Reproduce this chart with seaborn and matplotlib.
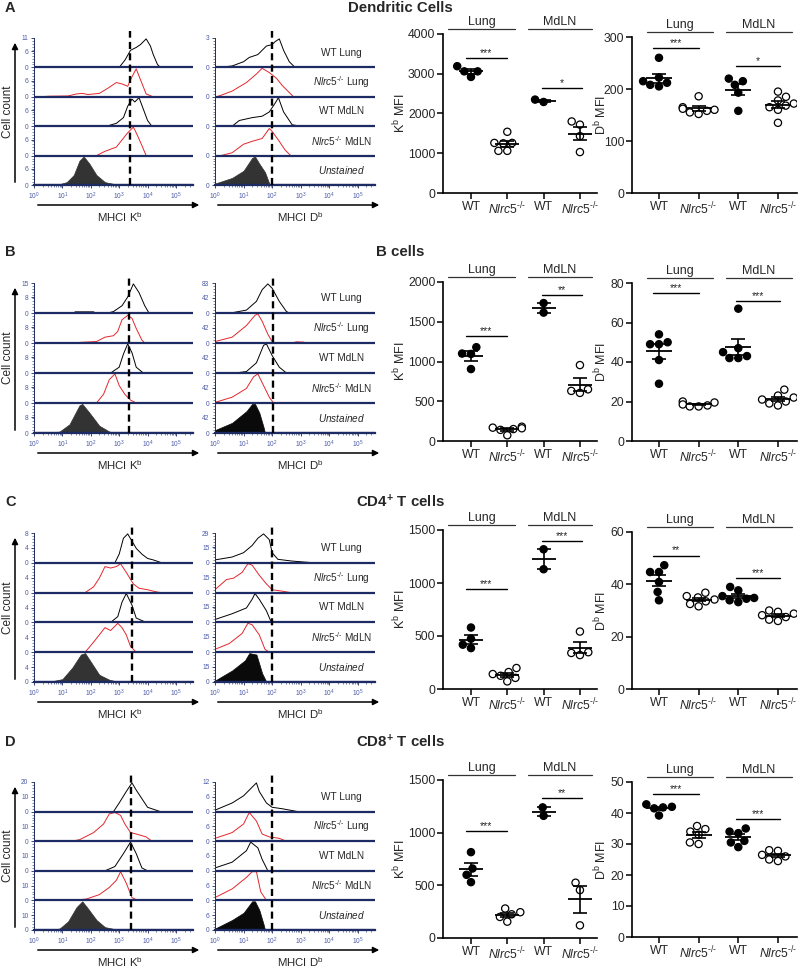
from __future__ import annotations

import matplotlib

matplotlib.use("Agg")
import matplotlib.pyplot as plt
import numpy as np
import pandas as pd
import seaborn as sns
from matplotlib.patches import FancyArrowPatch
from matplotlib.ticker import FixedLocator, LogLocator, MultipleLocator, NullFormatter

# ---------------------------------------------------------------- data
PANELS = ["A", "B", "C", "D"]
PANEL_TITLES = ["Dendritic Cells", "B cells", r"CD4$^{\mathbf{+}}$ T cells", r"CD8$^{\mathbf{+}}$ T cells"]
KO_SUP = r"$\mathit{Nlrc5}^{\text{-/-}}$"
TRACK_NAMES = ["WT Lung", KO_SUP + " Lung", "WT MdLN", KO_SUP + " MdLN", r"$\mathit{Unstained}$"]
GROUPS = ["WT Lung", "KO Lung", "WT MdLN", "KO MdLN"]
GROUP_TICKS = ["WT", KO_SUP, "WT", KO_SUP]

# histogram traces: (log10 MHCI intensity, fraction of track max), top track first
HIST_KB = [
    [  # A dendritic cells
        [(3.0, 0), (3.2, 0.25), (3.4, 0.6), (3.6, 0.7), (3.75, 0.8), (3.95, 1.0), (4.1, 0.75), (4.2, 0.45), (4.35, 0.1), (4.45, 0)],
        [(0.2, 0), (0.5, 0.02), (1.2, 0.03), (1.5, 0.1), (1.7, 0.12), (1.9, 0.08), (2.3, 0.12), (2.6, 0.3), (2.9, 0.5), (3.1, 0.45), (3.3, 0.37), (3.45, 0.7), (3.6, 0.98), (3.75, 0.6), (3.95, 0.1), (4.2, 0)],
        [(2.55, 0), (2.9, 0.1), (3.15, 0.3), (3.3, 0.7), (3.45, 0.95), (3.55, 0.85), (3.7, 1.0), (3.85, 0.6), (4.0, 0.2), (4.15, 0)],
        [(2.2, 0), (2.5, 0.15), (2.9, 0.3), (3.1, 0.55), (3.3, 0.8), (3.5, 1.0), (3.6, 0.8), (3.78, 0.4), (3.95, 0)],
        [(0.5, 0), (0.9, 0.03), (1.15, 0.1), (1.4, 0.35), (1.6, 0.85), (1.75, 1.0), (1.95, 0.75), (2.2, 0.35), (2.5, 0.1), (2.9, 0.02), (3.0, 0)],
    ],
    [  # B cells
        [(1.4, 0), (1.45, 0.04), (2.1, 0.04), (2.15, 0), (2.6, 0), (2.8, 0.05), (3.1, 0.25), (3.3, 0.55), (3.5, 1.0), (3.7, 0.7), (3.9, 0.25), (4.05, 0)],
        [(1.5, 0), (1.6, 0.02), (2.2, 0.05), (2.5, 0.2), (2.8, 0.25), (2.95, 0.4), (3.1, 0.8), (3.3, 0.95), (3.45, 0.85), (3.6, 0.5), (3.8, 0.1), (3.9, 0)],
        [(2.7, 0), (3.0, 0.2), (3.15, 0.65), (3.3, 1.0), (3.45, 0.7), (3.6, 0.2), (3.85, 0)],
        [(2.2, 0), (2.45, 0.3), (2.65, 0.8), (2.85, 1.0), (3.0, 0.6), (3.2, 0.3), (3.4, 0.1), (3.6, 0)],
        [(0.5, 0), (0.9, 0.05), (1.25, 0.3), (1.6, 0.95), (1.7, 1.0), (1.95, 0.7), (2.3, 0.25), (2.65, 0.05), (2.9, 0)],
    ],
    [  # CD4 T cells
        [(2.85, 0), (3.0, 0.3), (3.15, 0.85), (3.3, 1.0), (3.45, 0.75), (3.6, 0.5), (3.8, 0.3), (4.0, 0.15), (4.2, 0.1), (4.5, 0)],
        [(1.8, 0), (2.1, 0.2), (2.3, 0.5), (2.5, 0.9), (2.7, 0.85), (2.9, 0.9), (3.05, 1.0), (3.25, 0.7), (3.5, 0.3), (3.7, 0.15), (4.0, 0.1), (4.2, 0.05), (4.45, 0)],
        [(2.7, 0), (2.95, 0.2), (3.1, 0.7), (3.25, 1.0), (3.45, 0.6), (3.6, 0.15), (3.95, 0)],
        [(1.8, 0), (2.1, 0.35), (2.3, 0.6), (2.5, 0.85), (2.7, 0.75), (2.95, 1.0), (3.1, 0.85), (3.25, 0.6), (3.4, 0.2), (3.6, 0)],
        [(0.5, 0), (1.0, 0.1), (1.35, 0.5), (1.65, 0.95), (1.8, 1.0), (2.0, 0.7), (2.3, 0.25), (2.65, 0.08), (3.0, 0)],
    ],
    [  # CD8 T cells
        [(2.8, 0), (3.0, 0.3), (3.25, 0.7), (3.45, 1.0), (3.6, 0.75), (3.8, 0.45), (4.0, 0.15), (4.3, 0.05), (4.45, 0)],
        [(1.3, 0), (1.6, 0.05), (2.1, 0.3), (2.45, 0.6), (2.65, 0.95), (2.85, 1.0), (3.05, 0.9), (3.2, 0.6), (3.4, 0.3), (3.6, 0.25), (3.95, 0.15), (4.15, 0)],
        [(2.5, 0), (2.85, 0.15), (3.15, 0.6), (3.4, 1.0), (3.6, 0.6), (3.8, 0.1), (4.0, 0)],
        [(1.4, 0), (1.85, 0.05), (2.3, 0.2), (2.65, 0.45), (2.9, 0.7), (3.05, 1.0), (3.25, 0.6), (3.45, 0.1), (3.65, 0)],
        [(0.5, 0), (0.9, 0.05), (1.2, 0.3), (1.5, 0.8), (1.7, 1.0), (1.9, 0.75), (2.2, 0.35), (2.5, 0.1), (2.9, 0.02), (3.0, 0)],
    ],
]

HIST_DB = [
    [  # A
        [(0.1, 0), (0.6, 0.05), (1.0, 0.2), (1.2, 0.35), (1.5, 0.45), (1.8, 0.75), (2.0, 0.8), (2.1, 0.9), (2.25, 1.0), (2.4, 0.6), (2.6, 0.2), (2.8, 0)],
        [(0.05, 0), (0.2, 0.05), (0.6, 0.2), (1.1, 0.5), (1.45, 0.8), (1.65, 1.0), (1.9, 0.85), (2.15, 0.65), (2.35, 0.4), (2.6, 0.15), (2.75, 0)],
        [(0.6, 0), (0.85, 0.2), (1.3, 0.3), (1.65, 0.35), (1.9, 0.5), (2.1, 0.8), (2.22, 1.0), (2.4, 0.5), (2.7, 0.05), (3.0, 0)],
        [(0.2, 0), (0.6, 0.1), (1.0, 0.4), (1.3, 0.5), (1.65, 0.6), (1.9, 0.95), (2.0, 0.85), (2.25, 0.5), (2.45, 0.2), (2.65, 0)],
        [(0.0, 0.05), (0.6, 0.25), (1.0, 0.5), (1.3, 0.95), (1.4, 1.0), (1.55, 0.75), (1.75, 0.45), (1.9, 0.05), (1.95, 0)],
    ],
    [  # B
        [(0.55, 0), (1.1, 0.1), (1.45, 0.4), (1.65, 0.8), (1.85, 1.0), (2.0, 0.85), (2.25, 0.4), (2.5, 0.05), (2.6, 0)],
        [(0.0, 0.05), (0.6, 0.2), (1.1, 0.6), (1.4, 0.95), (1.5, 1.0), (1.65, 0.75), (1.85, 0.3), (2.0, 0.05), (2.1, 0), (2.7, 0), (2.85, 0.04), (3.1, 0.03), (3.2, 0)],
        [(0.7, 0), (1.1, 0.05), (1.45, 0.35), (1.7, 0.95), (1.8, 1.0), (2.0, 0.6), (2.25, 0.2), (2.5, 0)],
        [(0.0, 0.02), (0.6, 0.2), (1.1, 0.5), (1.35, 0.9), (1.5, 1.0), (1.65, 0.7), (1.9, 0.2), (2.05, 0)],
        [(0.0, 0.1), (0.6, 0.35), (1.1, 0.75), (1.3, 1.0), (1.4, 1.0), (1.55, 0.7), (1.7, 0.2), (1.75, 0)],
    ],
    [  # C
        [(0.0, 0.1), (0.6, 0.2), (1.0, 0.35), (1.3, 0.6), (1.5, 0.85), (1.7, 1.0), (1.9, 0.8), (2.0, 0.35), (2.2, 0.12), (2.7, 0.06), (3.2, 0.02), (3.5, 0)],
        [(0.0, 0.1), (0.4, 0.45), (0.65, 0.5), (0.95, 0.7), (1.15, 1.0), (1.3, 0.95), (1.55, 0.6), (1.8, 0.3), (2.0, 0.1), (2.35, 0.05), (2.65, 0)],
        [(0.0, 0.1), (0.6, 0.3), (1.1, 0.5), (1.3, 0.8), (1.4, 1.0), (1.55, 0.8), (1.8, 0.4), (1.95, 0.05), (2.0, 0)],
        [(0.0, 0.1), (0.5, 0.3), (0.95, 0.65), (1.15, 1.0), (1.3, 0.95), (1.55, 0.6), (1.75, 0.1), (1.9, 0)],
        [(0.0, 0.05), (0.6, 0.4), (1.05, 0.75), (1.2, 1.0), (1.45, 0.95), (1.65, 0.3), (1.8, 0)],
    ],
    [  # D
        [(0.0, 0.05), (0.6, 0.3), (1.0, 0.55), (1.2, 0.75), (1.45, 1.0), (1.55, 0.7), (1.8, 0.3), (2.0, 0.15), (2.35, 0.1), (2.9, 0)],
        [(0.0, 0.1), (0.6, 0.3), (1.0, 0.6), (1.2, 1.0), (1.45, 0.7), (1.65, 0.25), (1.9, 0.15), (2.25, 0.1), (2.5, 0)],
        [(0.0, 0.1), (0.6, 0.3), (1.1, 0.7), (1.25, 1.0), (1.5, 0.8), (1.65, 0.4), (1.85, 0)],
        [(0.0, 0.1), (0.6, 0.4), (1.1, 0.8), (1.3, 1.0), (1.45, 1.0), (1.6, 0.3), (1.8, 0)],
        [(0.0, 0.05), (0.6, 0.35), (1.0, 0.6), (1.3, 1.0), (1.4, 1.0), (1.55, 0.7), (1.7, 0.2), (1.75, 0)],
    ],
]

HIST_TICKS_KB = [(11, 6), (15, 8), (8, 4), (20, 10)]
HIST_TICKS_DB = [(3, None), (83, 42), (29, 15), (12, 6)]
CUTOFF_KB = [2400, 2250, 2900, 2700]
CUTOFF_DB = [100, 105, 100, 100]

# MFI per group: WT Lung, Nlrc5-/- Lung, WT MdLN, Nlrc5-/- MdLN
MFI_KB = [
    [[3190, 3060, 3060, 2920], [1540, 1260, 1260, 1250, 1060, 1060], [2290, 2350], [1800, 1720, 1430, 1030]],
    [[1180, 1100, 1095, 905], [180, 168, 160, 150, 140, 72], [1735, 1615], [955, 650, 630, 605]],
    [[580, 474, 418, 386], [198, 160, 141, 125, 105, 72], [1318, 1130], [542, 347, 340, 320]],
    [[815, 660, 600, 530], [280, 245, 225, 200, 155], [1240, 1160], [525, 455, 120]],
]
MFI_DB = [
    [[260, 222, 215, 212, 208, 205], [186, 165, 162, 160, 158, 155, 152], [220, 215, 208, 193, 158],
     [195, 185, 178, 172, 168, 165, 160, 135]],
    [[54, 50, 49, 49, 41, 29], [20, 19.5, 18.5, 18, 17.5, 17.5], [67, 47, 45, 43, 42, 42],
     [26, 23, 22, 21, 20, 19, 18]],
    [[47.3, 44.7, 44.7, 40.9, 37.1, 33.9], [36.8, 35.5, 35, 34.2, 33.5, 32.5, 31.6],
     [39, 37.7, 35.5, 34.8, 34.5, 33.9, 33.2], [30, 29.5, 28.8, 28.2, 27.5, 26.5, 26]],
    [[42.8, 42, 41.8, 41.5, 39.2], [35.8, 34.8, 34, 33, 30.5, 30], [35, 34, 33.5, 31, 30.5, 29],
     [28, 27.8, 26.5, 26, 25, 24.5]],
]
KB_YMAX = [4000, 2000, 1500, 1500]
KB_STEP = [1000, 500, 500, 500]
DB_YMAX = [300, 80, 60, 50]
DB_STEP = [100, 20, 20, 10]
# significance bars: (height, label) for Lung and MdLN comparisons
SIG_KB = [[(3400, "***"), (2640, "*")], [(1326, "***"), (1840, "**")],
          [(947, "***"), (1400, "***")], [(1017, "***"), (1332, "**")]]
SIG_DB = [[(279, "***"), (245, "*")], [(75, "***"), (71, "***")],
          [(51, "**"), (42.5, "***")], [(46, "***"), (38, "***")]]

# ---------------------------------------------------------------- style
W, H = 800, 968
NAVY = "#1c2b63"
TICK_BLUE = "#4a5aa8"
RED = "#e3262b"

# pixel layout per row: hist (top, bottom), Kb scatter, Db scatter, title y
ROW_GEOM = [
    dict(hist=(38, 185), kb=(34, 193), db=(37, 193), title=8),
    dict(hist=(283, 433), kb=(282, 441), db=(283, 441), title=252),
    dict(hist=(533, 682), kb=(530, 689), db=(532, 689), title=502),
    dict(hist=(782, 930), kb=(780, 938), db=(782, 937), title=742),
]


def px_axes(fig, x0, y0, x1, y1):
    return fig.add_axes([x0 / W, 1 - y1 / H, (x1 - x0) / W, (y1 - y0) / H])


def fig_arrow(fig, p0, p1):
    fig.add_artist(FancyArrowPatch((p0[0] / W, 1 - p0[1] / H), (p1[0] / W, 1 - p1[1] / H),
                                   transform=fig.transFigure, arrowstyle="-|>",
                                   mutation_scale=9, lw=1.1, color="black"))


def draw_hist(ax, tracks, ticks, cutoff, fill_color, labels):
    ax.set_xscale("log")
    ax.set_xlim(1, 10 ** 5.6)
    ax.set_ylim(0, 5)
    for i, pts in enumerate(tracks):
        base = 4 - i
        lx = np.array([p[0] for p in pts])
        fy = np.array([p[1] for p in pts])
        x = 10 ** lx
        y = base + fy * 0.97
        if i == 4:
            ax.fill_between(x, base, y, color=fill_color, lw=0.5, zorder=2)
        else:
            color = RED if i % 2 == 1 else "black"
            sns.lineplot(x=x, y=y, ax=ax, color=color, linewidth=0.7,
                         estimator=None, sort=False, zorder=2)
    for b in range(5):
        ax.axhline(b, color=NAVY, lw=1.6, zorder=3)
    ax.axvline(cutoff, ymin=0, ymax=1.05, color="black", lw=1.7,
               ls=(0, (3, 1.8)), clip_on=False, zorder=4)

    top, mid = ticks
    pos, lab = [], []
    for b in range(5):
        pos.append(b)
        lab.append("0")
        if mid is not None:
            pos.append(b + mid / top)
            lab.append(str(mid))
    pos.append(5)
    lab.append(str(top))
    ax.yaxis.set_major_locator(FixedLocator(pos))
    ax.set_yticklabels(lab)
    ax.yaxis.set_minor_locator(MultipleLocator(0.1))
    ax.xaxis.set_major_locator(FixedLocator([10 ** k for k in range(6)]))
    ax.set_xticklabels([f"$10^{{{k}}}$" for k in range(6)])
    ax.xaxis.set_minor_locator(LogLocator(base=10, subs=np.arange(2, 10)))
    ax.xaxis.set_minor_formatter(NullFormatter())
    ax.tick_params(axis="both", which="major", labelsize=4.8, labelcolor=TICK_BLUE,
                   color=NAVY, length=2.5, width=0.6, pad=1.5)
    ax.tick_params(axis="both", which="minor", color=NAVY, length=1.3, width=0.4)
    for s in ("top", "right"):
        ax.spines[s].set_visible(False)
    ax.spines["left"].set_color(NAVY)
    ax.spines["left"].set_linewidth(0.7)
    ax.spines["bottom"].set_color(NAVY)
    ax.spines["bottom"].set_linewidth(1.6)
    ax.set_xlabel("")
    ax.set_ylabel("")
    if labels:
        for i, name in enumerate(TRACK_NAMES):
            ax.text(0.79, (4 - i + 0.5) / 5, name, transform=ax.transAxes,
                    ha="center", va="center", fontsize=7.2)


def draw_scatter(ax, vals, ymax, ystep, ylabel, sigs, heads, xlim, label_x):
    df = pd.DataFrame({
        "group": np.repeat(GROUPS, [len(v) for v in vals]),
        "value": np.concatenate([np.asarray(v, float) for v in vals]),
    })
    df["geno"] = df["group"].str.split().str[0]
    sns.swarmplot(data=df, x="group", y="value", hue="geno", order=GROUPS,
                  palette={"WT": "black", "KO": "white"}, edgecolor="black",
                  linewidth=0.9, size=5.2, legend=False, ax=ax, zorder=3)
    stats = df.groupby("group")["value"].agg(["mean", "sem"]).reindex(GROUPS)
    xs = np.arange(len(GROUPS))
    ax.hlines(stats["mean"], xs - 0.33, xs + 0.33, color="black", lw=1.3, zorder=5)
    ax.errorbar(xs, stats["mean"], yerr=stats["sem"], fmt="none", ecolor="black",
                elinewidth=1.2, capsize=4.7, capthick=1.2, zorder=5)

    for (y, txt), (x0, x1) in zip(sigs, [(-0.15, 1.0), (1.95, 3.05)]):
        ax.plot([x0, x1], [y, y], color="black", lw=1.0, clip_on=False)
        ax.text((x0 + x1) / 2, y, txt, ha="center", va="bottom", fontsize=7.5)

    for (x0, x1), name in zip(heads, ["Lung", "MdLN"]):
        ax.plot([x0, x1], [1.03, 1.03], transform=ax.transAxes, color="#333333",
                lw=0.9, clip_on=False)
        ax.text((x0 + x1) / 2, 1.04, name, transform=ax.transAxes, ha="center",
                va="bottom", fontsize=9)

    ax.set_xlim(*xlim)
    ax.set_ylim(0, ymax)
    ax.set_yticks(np.arange(0, ymax + ystep / 2, ystep))
    ax.set_xticks(xs)
    ax.set_xticklabels(GROUP_TICKS)
    ax.set_xlabel("")
    ax.set_ylabel(ylabel, fontsize=9)
    ax.yaxis.set_label_coords(label_x, 0.5)
    ax.tick_params(axis="both", labelsize=8.8, direction="out", length=4, width=1.1,
                   color="black", pad=1.5)
    for s in ("top", "right"):
        ax.spines[s].set_visible(False)
    for s in ("left", "bottom"):
        ax.spines[s].set_linewidth(1.2)
        ax.spines[s].set_color("black")


def main() -> None:
    sns.set_theme(style="ticks")
    plt.rcParams["font.family"] = ["Liberation Sans", "DejaVu Sans"]
    plt.rcParams["mathtext.fontset"] = "custom"
    plt.rcParams["mathtext.rm"] = "Liberation Sans"
    plt.rcParams["mathtext.it"] = "Liberation Sans:italic"
    plt.rcParams["mathtext.bf"] = "Liberation Sans:bold"

    fig = plt.figure(figsize=(W / 100, H / 100), dpi=100)

    for r, geo in enumerate(ROW_GEOM):
        ty = geo["title"]
        fig.text(5 / W, 1 - ty / H, PANELS[r], fontsize=10.5, fontweight="bold",
                 ha="left", va="center")
        fig.text(400 / W, 1 - ty / H, PANEL_TITLES[r], fontsize=10.8, fontweight="bold",
                 ha="center", va="center")

        h0, h1 = geo["hist"]
        ax_kb = px_axes(fig, 34, h0, 193, h1)
        draw_hist(ax_kb, HIST_KB[r], HIST_TICKS_KB[r], CUTOFF_KB[r], "#333333", False)
        ax_db = px_axes(fig, 215, h0, 375, h1)
        fill_db = "#333333" if r == 0 else "#0a0a0a"
        draw_hist(ax_db, HIST_DB[r], HIST_TICKS_DB[r], CUTOFF_DB[r], fill_db, True)

        fig_arrow(fig, (15, h1), (15, h0 + 2))
        fig.text(8 / W, 1 - (h0 + h1) / 2 / H, "Cell count", rotation=90,
                 ha="center", va="center", fontsize=8.5)
        fig_arrow(fig, (35, h1 + 20), (202, h1 + 20))
        fig_arrow(fig, (215, h1 + 20), (382, h1 + 20))
        fig.text(120 / W, 1 - (h1 + 32) / H, r"MHCI K$^{\mathrm{b}}$", ha="center",
                 va="center", fontsize=8.2)
        fig.text(300 / W, 1 - (h1 + 32) / H, r"MHCI D$^{\mathrm{b}}$", ha="center",
                 va="center", fontsize=8.2)

        k0, k1 = geo["kb"]
        ax = px_axes(fig, 443, k0, 597, k1)
        draw_scatter(ax, MFI_KB[r], KB_YMAX[r], KB_STEP[r], r"K$^{\mathrm{b}}$ MFI", SIG_KB[r],
                     [(0.03, 0.47), (0.55, 0.97)], (-0.77, 3.47), -0.225)
        d0, d1 = geo["db"]
        ax = px_axes(fig, 632, d0, 797, d1)
        draw_scatter(ax, MFI_DB[r], DB_YMAX[r], DB_STEP[r], r"D$^{\mathrm{b}}$ MFI", SIG_DB[r],
                     [(0.09, 0.49), (0.57, 0.97)], (-0.68, 3.48), -0.14)

    fig.savefig("out.png", dpi=100)
    plt.close(fig)


if __name__ == "__main__":
    main()
